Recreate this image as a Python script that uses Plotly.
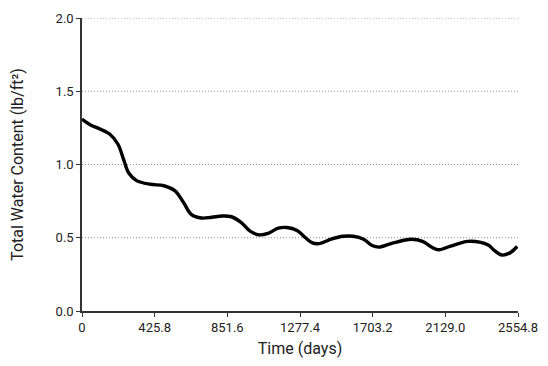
import plotly.graph_objects as go

days = [0, 50, 100, 160, 210, 245, 275, 320, 400, 480, 545, 595, 640, 700, 760,
        820, 870, 930, 985, 1040, 1090, 1150, 1200, 1260, 1310, 1350, 1390, 1460,
        1530, 1590, 1650, 1700, 1740, 1815, 1930, 1995, 2050, 2090, 2160, 2260,
        2330, 2380, 2420, 2460, 2505, 2550]
water = [1.31, 1.27, 1.245, 1.21, 1.14, 1.03, 0.94, 0.89, 0.865, 0.855, 0.82, 0.74,
         0.66, 0.635, 0.64, 0.648, 0.645, 0.607, 0.545, 0.52, 0.53, 0.565, 0.57,
         0.55, 0.50, 0.465, 0.46, 0.49, 0.51, 0.51, 0.49, 0.447, 0.436, 0.462,
         0.49, 0.475, 0.435, 0.418, 0.443, 0.475, 0.47, 0.45, 0.41, 0.382, 0.395,
         0.44]

x_ticks = [0, 425.8, 851.6, 1277.4, 1703.2, 2129.0, 2554.8]
x_tick_labels = ["0", "425.8", "851.6", "1277.4", "1703.2", "2129.0", "2554.8"]
y_ticks = [0.0, 0.5, 1.0, 1.5, 2.0]
y_tick_labels = ["0.0", "0.5", "1.0", "1.5", "2.0"]

fig = go.Figure()
fig.add_trace(go.Scatter(
    x=days, y=water, mode="lines",
    line=dict(color="black", width=3.4, shape="spline", smoothing=1.0),
    showlegend=False, hoverinfo="skip",
))

# dotted gridlines
for yv in y_ticks[1:]:
    fig.add_shape(type="line", xref="x", yref="y", x0=0, x1=2554.8, y0=yv, y1=yv,
                  line=dict(color="#8a8a8a", width=1, dash="1px,2px"), layer="below")

font = dict(family="Roboto, DejaVu Sans Condensed, sans-serif", size=13, color="#222222")

fig.update_layout(
    width=532, height=350,
    margin=dict(l=74, r=22, t=10, b=47),
    paper_bgcolor="white", plot_bgcolor="white",
    font=font,
    xaxis=dict(
        range=[0, 2554.8], tickvals=x_ticks, ticktext=x_tick_labels,
        showgrid=False, zeroline=False, showline=True, linecolor="#333333", linewidth=1.5,
        ticks="outside", ticklen=4, tickcolor="#333333", automargin=False,
        ticklabeloverflow="allow",
        title=dict(text="Time (days)", standoff=10), tickfont=font,
    ),
    yaxis=dict(
        range=[0, 2.0], tickvals=y_ticks, ticktext=y_tick_labels,
        showgrid=False, zeroline=False, showline=True, linecolor="#333333", linewidth=1.5,
        ticks="outside", ticklen=4, tickcolor="#333333", automargin=False,
        ticklabeloverflow="allow",
        title=dict(text="Total Water Content (lb/ft²)", standoff=35), tickfont=font,
    ),
)

fig.write_html("out.html")
